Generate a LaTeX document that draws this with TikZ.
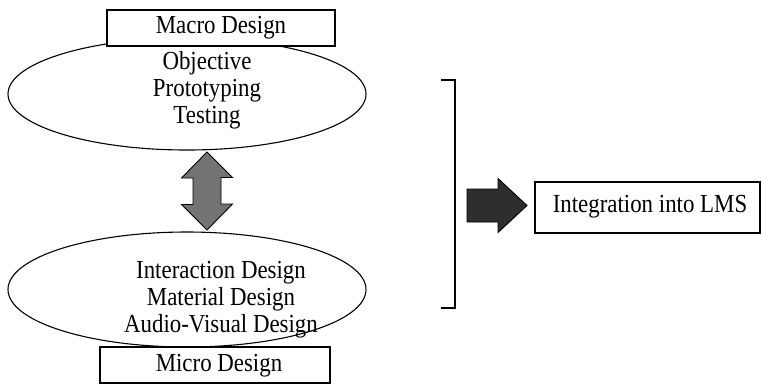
\documentclass[tikz,border=0pt]{standalone}
\usepackage{fontspec}
\setmainfont{Liberation Serif}
\usepackage{graphicx}
\usetikzlibrary{shapes.geometric}
\newcommand\cx[1]{\scalebox{0.88}[1]{#1}}
\begin{document}
\begin{tikzpicture}[x=1pt,y=-1pt,
  lbl/.style={font=\fontsize{26}{27}\selectfont, align=center, inner sep=0pt},
  ell/.style={draw, line width=1.1pt, ellipse, inner sep=0pt},
  titlebox/.style={draw, line width=1.1pt, fill=white, inner sep=0pt},
  blockarrow/.style={draw, line width=0.9pt, line join=miter}]
\useasboundingbox (0,0) rectangle (762,384);
% top ellipse and macro box
\node[ell, minimum width=358pt, minimum height=112pt] (topell) at (187,94) {};
\node[titlebox, minimum width=228pt, minimum height=36pt] (macro) at (221,28) {};
\node[lbl] (macrotxt) at (221,28) {\cx{Macro Design}};
\node[lbl] (toptxt) at (207,90) {\cx{Objective}\\\cx{Prototyping}\\\cx{Testing}};
% bottom ellipse and micro box
\node[ell, minimum width=358pt, minimum height=115pt] (botell) at (187,289.5) {};
\node[titlebox, minimum width=230pt, minimum height=36pt] (micro) at (215,365) {};
\node[lbl] (microtxt) at (219,366) {\cx{Micro Design}};
\node[lbl] (bottxt) at (221,300) {\cx{Interaction Design}\\\cx{Material Design}\\\cx{Audio-Visual Design}};
% double arrow (vertical)
\coordinate (dtop) at (207,152);
\coordinate (dbot) at (207,230);
\draw[blockarrow, fill=black!55]
  (dtop) -- ++(25.5,25.5) -- ++(-11.5,0) -- ++(0,26.5) -- ++(11.5,0)
  -- (dbot) -- ++(-25.5,-25.5) -- ++(11.5,0) -- ++(0,-26.5) -- ++(-11.5,0) -- cycle;
% bracket
\coordinate (brtop) at (441,80);
\coordinate (brbot) at (441,308);
\draw[line width=1.4pt] (brtop) -- ++(14,0) |- (brbot);
% right arrow
\coordinate (rtail) at (467,205.5);
\coordinate (rtip) at (527,205.5);
\draw[blockarrow, fill=black!82]
  (rtail) ++(0,-16.5) -- ++(31,0) -- ++(0,-10.5) -- (rtip) -- ++(-29,27)
  -- ++(0,-10.5) -- ++(-31,0) -- cycle;
% LMS box
\node[draw, line width=1.3pt, minimum width=225pt, minimum height=51pt, inner sep=0pt] (lms) at (647.5,207.5) {};
\node[lbl] (lmstxt) at (650,207) {\cx{Integration into LMS}};
\end{tikzpicture}
\end{document}
